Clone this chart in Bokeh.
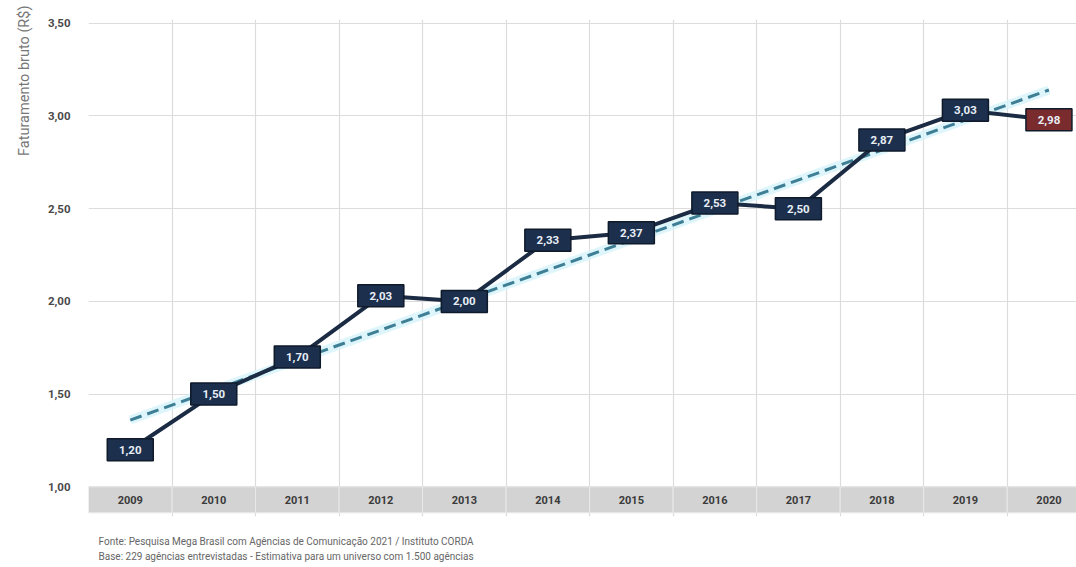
from bokeh.plotting import figure
from bokeh.models import Range1d, FixedTicker, Title, ColumnDataSource
from bokeh.core.properties import value
from bokeh.embed import file_html
from bokeh.resources import INLINE

years = [2009, 2010, 2011, 2012, 2013, 2014, 2015, 2016, 2017, 2018, 2019, 2020]
revenue = [1.20, 1.50, 1.70, 2.03, 2.00, 2.33, 2.37, 2.53, 2.50, 2.87, 3.03, 2.98]
labels = ["1,20", "1,50", "1,70", "2,03", "2,00", "2,33", "2,37", "2,53", "2,50", "2,87", "3,03", "2,98"]
box_colors = ["#1c2f4d"] * 11 + ["#7a2b2e"]
year_labels = [str(y) for y in years]
trend_years = [2009, 2020]
trend_values = [1.36, 3.14]
y_ticks = [1.0, 1.5, 2.0, 2.5, 3.0, 3.5]
y_tick_labels = ["1,00", "1,50", "2,00", "2,50", "3,00", "3,50"]
band_bottom = 0.86
band_top = 1.0
footer_1 = "Fonte: Pesquisa Mega Brasil com Agências de Comunicação 2021 / Instituto CORDA"
footer_2 = "Base: 229 agências entrevistadas - Estimativa para um universo com 1.500 agências"

FONT = "Roboto"

p = figure(width=1076, height=567, output_backend="svg", toolbar_location=None,
           x_range=Range1d(2008.5, 2020.33), y_range=Range1d(0.84, 3.52),
           min_border_left=88, min_border_right=0, min_border_top=19, min_border_bottom=0)
p.outline_line_color = None
p.background_fill_color = "white"

# grid
p.xgrid.ticker = FixedTicker(ticks=[y - 0.5 for y in years] + [2020.5])
p.ygrid.ticker = FixedTicker(ticks=y_ticks)
p.xgrid.bounds = (band_bottom, 3.5)
p.xgrid.grid_line_color = "#dcdcdc"
p.ygrid.grid_line_color = "#dcdcdc"
p.xgrid.grid_line_width = 1.2
p.ygrid.grid_line_width = 1.2

p.xaxis.visible = False
ya = p.yaxis[0]
ya.ticker = FixedTicker(ticks=y_ticks)
ya.major_label_overrides = {t: l for t, l in zip(y_ticks, y_tick_labels)}
ya.axis_line_color = None
ya.major_tick_line_color = None
ya.minor_tick_line_color = None
ya.major_label_standoff = 12
ya.major_label_text_font = FONT
ya.major_label_text_font_style = "bold"
ya.major_label_text_font_size = "11.5px"
ya.major_label_text_color = "#4a4a4a"

p.add_layout(Title(text="Faturamento bruto (R$)", align="right", text_font=FONT,
                   text_font_size="14.5px", text_font_style="normal", text_color="#777777",
                   offset=-14, standoff=24), "left")

# gray year band
band = ColumnDataSource(dict(x=years, top=[band_top] * len(years), bottom=[band_bottom] * len(years),
                             lab=year_labels, ly=[(band_top + band_bottom) / 2] * len(years)))
p.vbar(x="x", top="top", bottom="bottom", width=1.0, source=band,
       fill_color="#d3d3d3", line_color="#e9e9e9", line_width=1)
p.text(x="x", y="ly", text="lab", source=band, text_align="center", text_baseline="middle",
       text_font=value(FONT), text_font_style="bold", text_font_size="11px", text_color="#3a3a3a")

# trend line (glow + dashed)
p.line(trend_years, trend_values, line_color="#d6f4fa", line_width=9, line_alpha=0.8)
p.line(trend_years, trend_values, line_color="#3f7f96", line_width=3, line_dash="12 6")

# main series
src = ColumnDataSource(dict(x=years, y=revenue, lab=labels, col=box_colors))
p.line("x", "y", source=src, line_color="#1b2b43", line_width=4)
p.rect("x", "y", width=46, height=22, width_units="screen", height_units="screen", source=src,
       fill_color="col", line_color="#0f1a2b", line_width=1.5)
p.text("x", "y", text="lab", source=src, text_align="center", text_baseline="middle",
       text_font=value(FONT), text_font_style="bold", text_font_size="11.5px", text_color="#e8eef6")

# footer (spacer title first, nearest the plot)
p.add_layout(Title(text=" ", text_font=FONT, text_font_size="10px", standoff=0), "below")
p.add_layout(Title(text=footer_1 + "\n" + footer_2, text_font=FONT, text_font_size="10px",
                   text_font_style="normal", text_color="#666666", text_line_height=1.4,
                   offset=10, standoff=10), "below")

open("out.html", "w").write(file_html(p, INLINE))
